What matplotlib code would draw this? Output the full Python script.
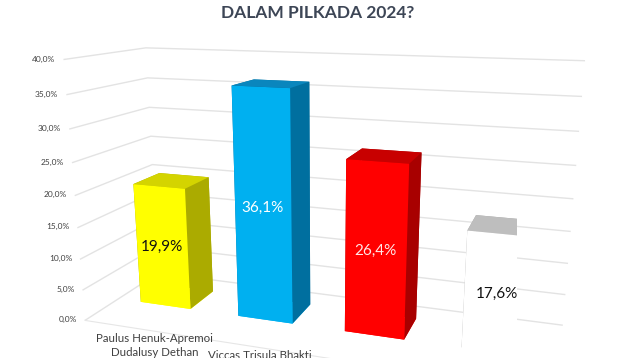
import matplotlib
matplotlib.use('Agg')
import matplotlib.pyplot as plt
import numpy as np

# ---- data ----
categories = ["Paulus Henuk-Apremoi\nDudalusy Dethan", "Viccas Trisula Bhakti", "", ""]
values = [19.9, 36.1, 26.4, 17.6]
value_labels = ["19,9%", "36,1%", "26,4%", "17,6%"]
ticks = [0, 5, 10, 15, 20, 25, 30, 35, 40]
tick_labels = ["0,0%", "5,0%", "10,0%", "15,0%", "20,0%", "25,0%", "30,0%", "35,0%", "40,0%"]
title = "DALAM PILKADA 2024?"

front_colors = ['#FFFF00', '#00B0F0', '#FF0000', '#FFFFFF']
top_colors = ['#D4D400', '#0A86BD', '#C80000', '#BEBEBE']
side_colors = ['#ABAB00', '#006F9F', '#A80000', '#A6A6A6']
label_colors = ['#111111', '#FFFFFF', '#FFE8E8', '#111111']

plt.rcParams['font.family'] = ['Lato', 'DejaVu Sans']

fig = plt.figure(figsize=(6.4, 3.58), dpi=100)
ax = fig.add_axes([-0.055, -0.126, 1.1, 1.12], projection='3d')
ax.set_proj_type('persp', focal_length=0.37)
ax.view_init(elev=15, azim=-71)
ax.set_box_aspect((2.05, 0.65, 1.17), zoom=1.375)
ax.title.set_visible(False)

n = len(values)
xs = np.arange(n) + 0.24
ys = np.full(n, 0.42)
dx, dy = 0.52, 0.36
colors = []
for i in range(n):
    # face order: -z, +z, -y, +y, -x, +x
    colors += [front_colors[i], top_colors[i], front_colors[i],
               side_colors[i], side_colors[i], side_colors[i]]
ax.bar3d(xs, ys, np.zeros(n), dx, dy, values, color=colors, shade=False,
         linewidth=0)

ax.set_xlim(0, n)
ax.set_ylim(0, 1)
ax.set_zlim(0, 40)
ax.set_xticks([])
ax.set_yticks([])
ax.set_zticks(ticks)
ax.zaxis.set_ticklabels([])
for axis in (ax.xaxis, ax.yaxis, ax.zaxis):
    axis.set_pane_color((1, 1, 1, 0))
    axis.pane.set_edgecolor((1, 1, 1, 0))
    axis.line.set_color((1, 1, 1, 0))
    axis.label.set_visible(False)
    axis.offsetText.set_visible(False)
    axis._axinfo['tick']['inward_factor'] = 0
    axis._axinfo['tick']['outward_factor'] = 0
ax.zaxis._axinfo['grid'].update(color='#E3E3E3', linewidth=1.0)
ax.xaxis.line.set_color('#E6E6E6')

for t, lab in zip(ticks, tick_labels):
    ax.text(-0.08, 0, t, lab, ha='right', va='center', fontsize=6,
            color='#404040', zorder=100)

for i in range(n):
    ax.text(xs[i] + dx / 2, ys[i], values[i] / 2, value_labels[i],
            ha='center', va='center', fontsize=11, color=label_colors[i],
            zorder=100)
    if categories[i]:
        ax.text(xs[i] + dx / 2 + 0.12, 0.1, -1.5, categories[i], ha='center',
                va='top', fontsize=8.3, color='#404040', zorder=100,
                linespacing=1.3)

fig.text(0.497, 0.965, title, ha='center', va='center', fontsize=12.5,
         fontweight='bold', color='#3D4656')

fig.savefig('out.png', dpi=100)
